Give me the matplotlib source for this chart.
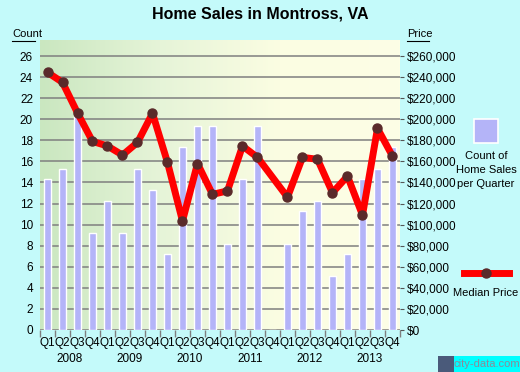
import numpy as np
import matplotlib
matplotlib.use("Agg")
import matplotlib.pyplot as plt
from matplotlib.colors import LinearSegmentedColormap
from matplotlib.lines import Line2D

plt.rcParams['font.family'] = ['Liberation Sans', 'DejaVu Sans']

# ---- data ----
years = ["2008", "2009", "2010", "2011", "2012", "2013"]
quarters = ["Q1", "Q2", "Q3", "Q4"]

# count of home sales per quarter, 2008 Q1 .. 2013 Q4
counts = [14.3, 15.3, 20.5, 9.2,
          12.2, 9.2, 15.3, 13.3,
          7.2, 17.4, 19.4, 19.4,
          8.2, 14.3, 19.4, 0.0,
          8.2, 11.3, 12.2, 5.1,
          7.2, 14.3, 15.3, 17.4]

# median price, NaN where no value
prices = [244500, 235000, 206000, 179000,
          174600, 166000, 178000, 205600,
          159000, 103400, 158000, 128700,
          132000, 174600, 163800, np.nan,
          126000, 163800, 162000, 130300,
          146000, 109000, 191300, 165000]

count_ticks = list(range(0, 27, 2))
price_ticks = list(range(0, 260001, 20000))

# ---- figure ----
bg = "#c4fafa"
fig = plt.figure(figsize=(5.2, 3.72), dpi=100, facecolor=bg)
ax = fig.add_axes([40/520, 42/372, 360/520, 290/372])
ymax = 27.52
n = len(counts)
x = np.arange(n)

# gradient plot background (green -> pale yellow)
cmap = LinearSegmentedColormap.from_list("bgr", ["#cae7c0", "#e6f4d8", "#fbfde2", "#fdfee6"])
grad = np.linspace(0, 1, 256).reshape(1, -1)
ax.imshow(grad, extent=[-0.5, n - 0.5, 0, ymax], aspect="auto", cmap=cmap, zorder=0)

# grid lines
for t in count_ticks:
    ax.axhline(t, color="#7f7f7f", lw=1.1, zorder=1)

ax.bar(x, counts, width=0.45, color="#b4b4f8", edgecolor="white", linewidth=1.0, zorder=2)

ax.set_xlim(-0.5, n - 0.5)
ax.set_ylim(0, ymax)
for s in ax.spines.values():
    s.set_visible(False)

ax.set_yticks(count_ticks)
ax.set_yticklabels([str(t) for t in count_ticks], fontsize=8.5)
ax.tick_params(axis="y", length=0, pad=5)

# quarter labels and boundary ticks
ax.set_xticks(np.arange(-0.5, n, 1.0))
ax.set_xticklabels([])
ax.tick_params(axis="x", length=5, color="#7f7f7f", width=1)
for i in range(n):
    ax.text(i, -0.7, quarters[i % 4], ha="center", va="top", fontsize=8.5)
for j, yr in enumerate(years):
    ax.text(j * 4 + 1.5, -2.15, yr, ha="center", va="top", fontsize=8.5)

# price line on twin axis
ax2 = ax.twinx()
ax2.set_ylim(0, ymax * 10000)
for s in ax2.spines.values():
    s.set_visible(False)
pr = np.array(prices, dtype=float)
valid = ~np.isnan(pr)
ax2.plot(x[valid], pr[valid], color="#ff0000", lw=5, zorder=3,
         solid_joinstyle="round", solid_capstyle="round")
ax2.plot(x[valid], pr[valid], "o", color="#5a2a2a", ms=6.5, zorder=4)
ax2.set_yticks(price_ticks)
ax2.set_yticklabels(["${:,}".format(p) for p in price_ticks], fontsize=8.5)
ax2.tick_params(axis="y", length=3, color="#555555", pad=2)

# title and axis captions
fig.text(0.5, 0.962, "Home Sales in Montross, VA", ha="center", va="center",
         fontsize=11.5, fontweight="bold")
fig.text(12/520, 1 - 34/372, "Count", ha="left", va="center", fontsize=8)
fig.add_artist(Line2D([12/520, 35/520], [1 - 41/372, 1 - 41/372], color="black", lw=0.8))
fig.text(407/520, 1 - 34/372, "Price", ha="left", va="center", fontsize=8)
fig.add_artist(Line2D([407/520, 429/520], [1 - 41/372, 1 - 41/372], color="black", lw=0.8))

# legend
lax = fig.add_axes([0, 0, 1, 1], facecolor="none")
lax.set_xlim(0, 520)
lax.set_ylim(372, 0)
lax.axis("off")
lax.add_patch(plt.Rectangle((474, 119), 24, 24, facecolor="#b4b4f8", edgecolor="white", lw=1.2))
lax.text(486, 170, "Count of\nHome Sales\nper Quarter", ha="center", va="center",
         fontsize=8, linespacing=1.45)
lax.plot([464, 509], [272.7, 272.7], color="#ff0000", lw=5)
lax.plot([486], [272.7], "o", color="#5a2a2a", ms=6.5)
lax.text(486, 293, "Median Price", ha="center", va="center", fontsize=8)

# watermark
lax.add_patch(plt.Rectangle((437.5, 355.5), 16, 16.5, facecolor="#4a5a7a", edgecolor="none"))
lax.add_patch(plt.Rectangle((454, 355.5), 66, 16.5, facecolor="#00ffff", edgecolor="none"))
lax.text(487, 364, "city-data.com", ha="center", va="center", fontsize=8, color="#8a8a9a")

fig.savefig("out.png", dpi=100, facecolor=bg)
